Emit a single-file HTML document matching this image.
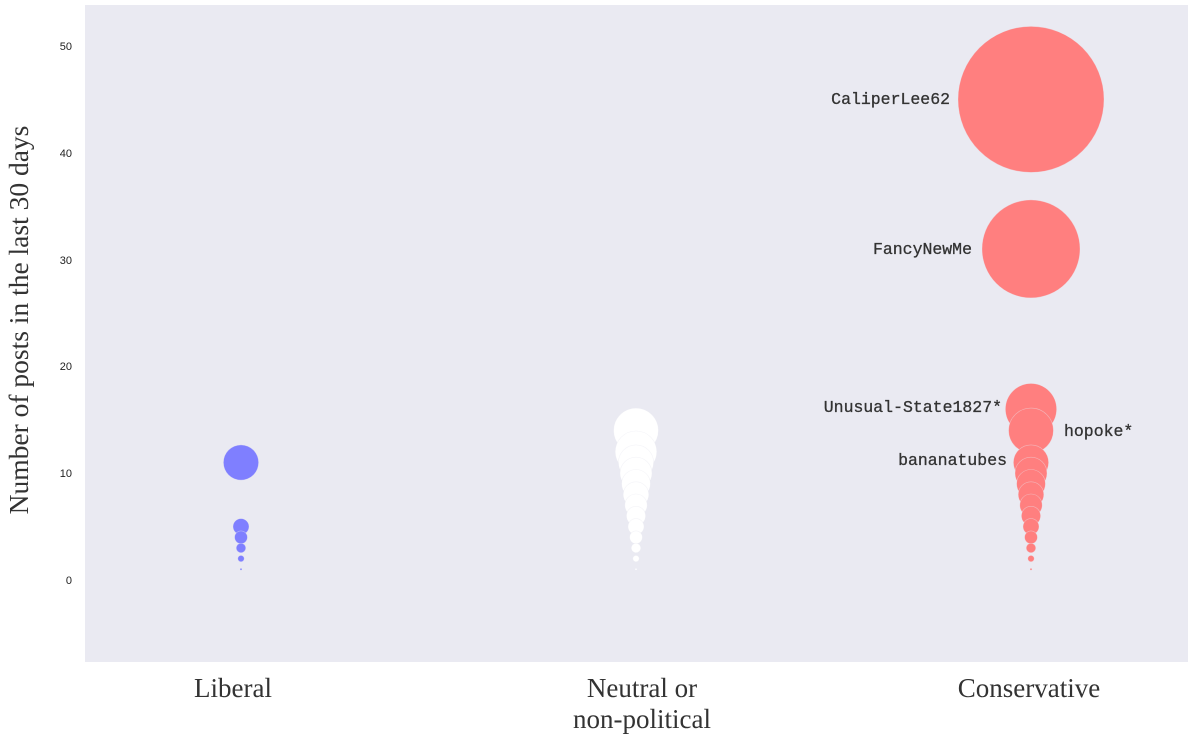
<!DOCTYPE html>
<html><head><meta charset="utf-8"><style>
html,body{margin:0;padding:0;background:#fff;}
svg{display:block;}
</style></head><body>
<svg width="1200" height="735" xmlns="http://www.w3.org/2000/svg">
<rect x="85" y="5" width="1103" height="657" fill="#eaeaf2"/>
<g font-family="Liberation Sans, sans-serif" font-size="11" fill="#222" text-anchor="end">
<text x="72" y="50">50</text>
<text x="72" y="157">40</text>
<text x="72" y="264">30</text>
<text x="72" y="370">20</text>
<text x="72" y="477">10</text>
<text x="72" y="584">0</text>
</g>
<text transform="translate(28,320) rotate(-90)" font-family="Liberation Serif, serif" font-size="27.5" fill="#333" text-anchor="middle">Number of posts in the last 30 days</text>
<g font-family="Liberation Serif, serif" font-size="27" fill="#333" text-anchor="middle">
<text x="233" y="697">Liberal</text>
<text x="642" y="697">Neutral or</text>
<text x="642" y="728">non-political</text>
<text x="1029" y="697">Conservative</text>
</g>
<g fill="#7f7fff" stroke="#eaeaf2" stroke-width="0.6" stroke-opacity="0.5">
<circle cx="241" cy="462.5" r="17.6"/>
<circle cx="241" cy="526.6" r="8"/>
<circle cx="241" cy="537.3" r="6.4"/>
<circle cx="241" cy="548" r="4.8"/>
<circle cx="241" cy="558.6" r="3.2"/>
<circle cx="241" cy="569.3" r="1"/>
</g>
<g fill="#ffffff" stroke="#eaeaf2" stroke-width="0.6" stroke-opacity="0.5">
<circle cx="636" cy="430.5" r="22.4"/>
<circle cx="636" cy="451.8" r="20.8"/>
<circle cx="636" cy="462.5" r="17.6"/>
<circle cx="636" cy="473.2" r="16"/>
<circle cx="636" cy="483.9" r="14.4"/>
<circle cx="636" cy="494.6" r="12.8"/>
<circle cx="636" cy="505.2" r="11.2"/>
<circle cx="636" cy="515.9" r="9.6"/>
<circle cx="636" cy="526.6" r="8"/>
<circle cx="636" cy="537.3" r="6.4"/>
<circle cx="636" cy="548" r="4.8"/>
<circle cx="636" cy="558.6" r="3.2"/>
<circle cx="636" cy="569.3" r="1"/>
</g>
<g fill="#ff7f7f" stroke="#eaeaf2" stroke-width="0.6" stroke-opacity="0.5">
<circle cx="1031" cy="99.4" r="73"/>
<circle cx="1031" cy="248.9" r="49"/>
<circle cx="1031" cy="409.1" r="25.6"/>
<circle cx="1031" cy="430.5" r="22.4"/>
<circle cx="1031" cy="462.5" r="17.6"/>
<circle cx="1031" cy="473.2" r="16"/>
<circle cx="1031" cy="483.9" r="14.4"/>
<circle cx="1031" cy="494.6" r="12.8"/>
<circle cx="1031" cy="505.2" r="11.2"/>
<circle cx="1031" cy="515.9" r="9.6"/>
<circle cx="1031" cy="526.6" r="8"/>
<circle cx="1031" cy="537.3" r="6.4"/>
<circle cx="1031" cy="548" r="4.8"/>
<circle cx="1031" cy="558.6" r="3.2"/>
<circle cx="1031" cy="569.3" r="1"/>
</g>
<g font-family="Liberation Mono, monospace" font-size="16.5" fill="#333" stroke="#333" stroke-width="0.3">
<text x="950" y="104" text-anchor="end">CaliperLee62</text>
<text x="972" y="254" text-anchor="end">FancyNewMe</text>
<text x="1002" y="412" text-anchor="end">Unusual-State1827*</text>
<text x="1064" y="436">hopoke*</text>
<text x="1007" y="465" text-anchor="end">bananatubes</text>
</g>
</svg>
</body></html>
